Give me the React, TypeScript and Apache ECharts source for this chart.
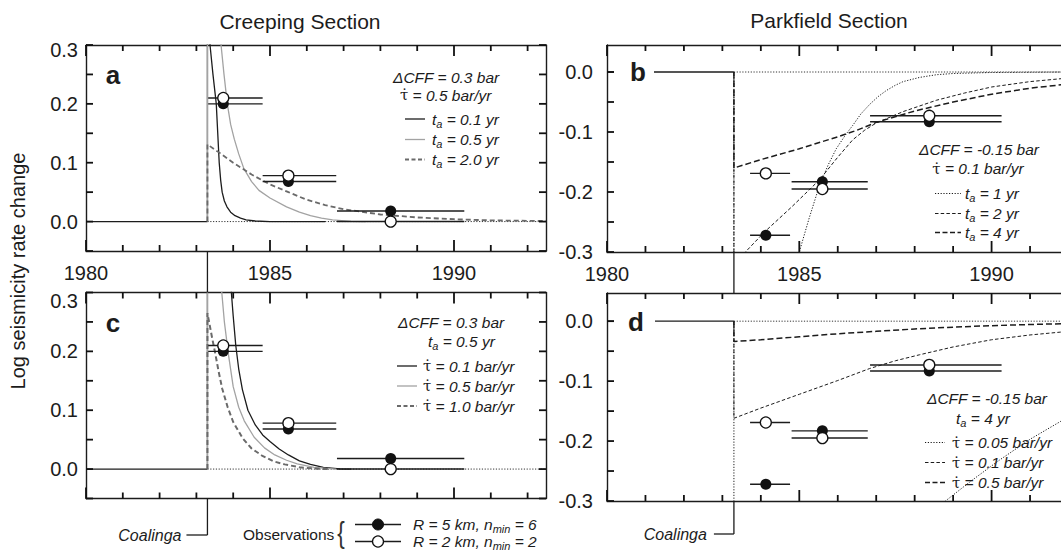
import React, { useEffect, useRef } from 'react';
import * as echarts from 'echarts';

const W = 1061;
const H = 552;
const FONT = 'Liberation Sans';
const INK = '#1c1c1c';
const TC = 1983.3; // Coalinga earthquake

// ---------- Tick positions ----------
const yearTicks = [1980, 1981, 1982, 1983, 1984, 1985, 1986, 1987, 1988, 1989, 1990, 1991, 1992];
const creepYTicks = [-0.05, 0, 0.05, 0.1, 0.15, 0.2, 0.25, 0.3];
const parkYTicks = [-0.3, -0.25, -0.2, -0.15, -0.1, -0.05, 0];

// ---------- Observations ----------
const creepX = [1983.73, 1985.5, 1988.28];
const creepFilled = [0.2, 0.068, 0.018];
const creepOpen = [0.21, 0.078, 0.0];
const creepBinFrom = [1983.32, 1984.8, 1986.82];
const creepBinTo = [1984.8, 1986.8, 1990.28];

const parkX = [1984.13, 1985.6, 1988.38];
const parkFilled = [-0.272, -0.183, -0.083];
const parkOpen = [-0.169, -0.195, -0.073];
const parkBinFrom = [1983.72, 1984.8, 1986.84];
const parkBinTo = [1984.76, 1986.78, 1990.26];

// ---------- Model curves ----------
// panel a: dCFF = 0.3 bar, tau-dot = 0.5 bar/yr
const aTa01: number[][] = [[TC, 0], [TC, 0.8], [1983.37, 0.3], [1983.45, 0.25], [1983.54, 0.2], [1983.58, 0.15], [1983.62, 0.1], [1983.66, 0.07], [1983.7, 0.05], [1983.76, 0.035], [1983.83, 0.025], [1983.93, 0.016], [1984.05, 0.01], [1984.2, 0.006], [1984.35, 0.003], [1984.6, 0.001], [1985.0, 0], [1986.5, 0]];
const aTa05: number[][] = [[TC, 0], [TC, 0.8], [1983.67, 0.3], [1983.75, 0.25], [1983.84, 0.2], [1983.93, 0.165], [1984.03, 0.14], [1984.15, 0.115], [1984.29, 0.09], [1984.5, 0.068], [1984.7, 0.053], [1985.0, 0.04], [1985.45, 0.025], [1985.8, 0.016], [1986.1, 0.01], [1986.4, 0.006], [1986.7, 0.003], [1987.2, 0.0005], [1987.6, 0]];
const aTa20: number[][] = [[TC, 0], [TC, 0.131], [1983.6, 0.118], [1984.0, 0.1], [1984.5, 0.08], [1985.0, 0.063], [1985.5, 0.05], [1986.0, 0.037], [1986.5, 0.028], [1987.0, 0.021], [1988.0, 0.012], [1989.0, 0.007], [1990.0, 0.004], [1991.0, 0.002], [1992.5, 0.001]];

// panel c: dCFF = 0.3 bar, ta = 0.5 yr
const cRate01: number[][] = [[TC, 0], [TC, 0.8], [1983.95, 0.3], [1984.0, 0.26], [1984.07, 0.21], [1984.15, 0.17], [1984.25, 0.135], [1984.4, 0.1], [1984.6, 0.075], [1984.8, 0.058], [1985.0, 0.047], [1985.25, 0.034], [1985.5, 0.024], [1985.8, 0.014], [1986.1, 0.008], [1986.45, 0.003], [1986.9, 0.0005], [1987.2, 0]];
const cRate05: number[][] = [[TC, 0], [TC, 0.8], [1983.69, 0.3], [1983.76, 0.25], [1983.87, 0.195], [1984.0, 0.14], [1984.15, 0.105], [1984.3, 0.082], [1984.57, 0.054], [1984.85, 0.036], [1985.13, 0.024], [1985.45, 0.015], [1985.74, 0.009], [1986.2, 0.003], [1986.8, 0]];
const cRate10: number[][] = [[TC, 0], [TC, 0.265], [1983.36, 0.245], [1983.43, 0.222], [1983.52, 0.194], [1983.6, 0.167], [1983.7, 0.137], [1983.85, 0.105], [1984.0, 0.08], [1984.26, 0.052], [1984.5, 0.035], [1984.78, 0.023], [1985.1, 0.013], [1985.4, 0.008], [1985.8, 0.003], [1986.3, 0.0005], [1986.6, 0]];

// panel b: dCFF = -0.15 bar, tau-dot = 0.1 bar/yr
const bTa1: number[][] = [[TC, 0], [TC, -0.65], [1985.0, -0.3], [1985.25, -0.245], [1985.52, -0.19], [1985.75, -0.155], [1985.96, -0.128], [1986.2, -0.105], [1986.39, -0.089], [1986.6, -0.07], [1986.83, -0.054], [1987.05, -0.041], [1987.26, -0.031], [1987.5, -0.022], [1987.7, -0.016], [1988.13, -0.009], [1988.57, -0.0045], [1989.0, -0.0025], [1990.0, -0.0008], [1992.0, 0]];
const bTa2: number[][] = [[TC, 0], [TC, -0.33], [1983.57, -0.302], [1984.09, -0.267], [1984.8, -0.225], [1985.52, -0.18], [1986.0, -0.142], [1986.39, -0.113], [1986.7, -0.097], [1987.0, -0.085], [1987.7, -0.066], [1988.57, -0.047], [1989.3, -0.035], [1990.0, -0.025], [1991.0, -0.016], [1992.0, -0.01]];
const bTa4: number[][] = [[TC, 0], [TC, -0.16], [1984.0, -0.146], [1985.0, -0.128], [1986.0, -0.108], [1986.5, -0.097], [1987.0, -0.084], [1988.0, -0.065], [1989.0, -0.05], [1990.0, -0.037], [1991.0, -0.027], [1992.0, -0.02]];

// panel d: dCFF = -0.15 bar, ta = 4 yr
const dRate005: number[][] = [[TC, 0], [TC, -0.9], [1987.5, -0.4], [1988.8, -0.3], [1989.5, -0.265], [1990.2, -0.232], [1991.0, -0.197], [1991.8, -0.167], [1992.0, -0.16]];
const dRate01: number[][] = [[TC, 0], [TC, -0.162], [1984.0, -0.145], [1985.0, -0.122], [1986.0, -0.099], [1986.83, -0.079], [1987.5, -0.066], [1988.13, -0.056], [1989.0, -0.043], [1990.0, -0.031], [1991.0, -0.023], [1992.0, -0.017]];
const dRate05: number[][] = [[TC, 0], [TC, -0.034], [1984.0, -0.031], [1985.0, -0.026], [1986.0, -0.021], [1987.0, -0.017], [1988.0, -0.013], [1989.0, -0.01], [1990.0, -0.0075], [1991.0, -0.0055], [1992.0, -0.004]];

// ---------- Layout ----------
const GRIDS = [
  { left: 86, top: 45, width: 460, height: 206, xMin: 1980, xMax: 1992.5, yMin: -0.05, yMax: 0.3, xLabels: true, yMargin: 8, topPad: 9, yTicks: creepYTicks },
  { left: 607, top: 45, width: 461.5, height: 207, xMin: 1980, xMax: 1992, yMin: -0.3, yMax: 0.045, xLabels: true, yMargin: 14, topPad: 0, yTicks: parkYTicks },
  { left: 86, top: 292.5, width: 460, height: 206, xMin: 1980, xMax: 1992.5, yMin: -0.05, yMax: 0.3, xLabels: false, yMargin: 8, topPad: 17, yTicks: creepYTicks },
  { left: 607, top: 293, width: 461.5, height: 208, xMin: 1980, xMax: 1992, yMin: -0.3, yMax: 0.047, xLabels: false, yMargin: 14, topPad: 0, yTicks: parkYTicks },
];

const DOT = [1.2, 1.6];
const DASH = [3.5, 2.2];
const LDASH = [6, 3];

const isMajor = (v: number) => Math.abs(v - Math.round(v / 5) * 5) < 1e-6;

function buildOption() {
  const grid: any[] = [];
  const xAxis: any[] = [];
  const yAxis: any[] = [];
  GRIDS.forEach((g, gi) => {
    grid.push({ left: g.left, top: g.top, width: g.width, height: g.height, containLabel: false, outerBoundsMode: 'none' });
    for (const pos of ['bottom', 'top']) {
      xAxis.push({
        type: 'value', gridIndex: gi, min: g.xMin, max: g.xMax, splitLine: { show: false },
        position: pos, interval: 5,
        axisLine: { show: true, onZero: false, lineStyle: { color: INK, width: 1.4 } },
        axisTick: { show: false },
        axisLabel: {
          show: pos === 'bottom' && g.xLabels, margin: 12, fontSize: 20, color: INK, fontFamily: FONT,
          formatter: (v: number) => (isMajor(v) ? String(Math.round(v)) : ''),
        },
      });
    }
    for (const pos of ['left', 'right']) {
      yAxis.push({
        type: 'value', gridIndex: gi, position: pos, min: g.yMin, max: g.yMax, interval: 0.05,
        splitLine: { show: false },
        axisLine: { show: true, onZero: false, lineStyle: { color: INK, width: 1.4 } },
        axisTick: { show: false },
        axisLabel: {
          show: pos === 'left', margin: g.yMargin, fontSize: 20, color: INK, fontFamily: FONT,
          rich: { p: { fontSize: 20, fontFamily: FONT, color: INK, padding: [g.topPad, 0, 0, 0] } },
          formatter: (v: number) => {
            const k = Math.round(v * 100);
            if (k % 10 !== 0) return '';
            const s = (k / 100).toFixed(1);
            return k === 30 && g.topPad > 0 ? '{p|' + s + '}' : s;
          },
        },
      });
    }
  });

  const series: any[] = [];
  const line = (gi: number, data: any[], color: string, width: number, type: any, z = 3, clip = true) => {
    series.push({
      type: 'line', xAxisIndex: gi * 2, yAxisIndex: gi * 2, data, symbol: 'none', clip, silent: true, z,
      lineStyle: { color, width, type, cap: 'butt' },
    });
  };

  // inward ticks on all four sides, drawn as short segments in data space
  GRIDS.forEach((g, gi) => {
    const dy = (g.yMax - g.yMin) / g.height; // data units per pixel
    const dx = (g.xMax - g.xMin) / g.width;
    yearTicks.filter((v) => v <= g.xMax).forEach((v) => {
      const len = (isMajor(v) ? 11 : 6) * dy;
      line(gi, [[v, g.yMin], [v, g.yMin + len]], '#111', 1.8, 'solid', 7, false);
      line(gi, [[v, g.yMax], [v, g.yMax - len]], '#111', 1.8, 'solid', 7, false);
    });
    g.yTicks.forEach((v) => {
      line(gi, [[g.xMin, v], [g.xMin + 7 * dx, v]], '#111', 1.8, 'solid', 7, false);
      line(gi, [[g.xMax, v], [g.xMax - 7 * dx, v]], '#111', 1.8, 'solid', 7, false);
    });
  });

  // baselines
  GRIDS.forEach((g, gi) => {
    line(gi, [[g.xMin, 0], [TC, 0]], INK, 1.3, 'solid', 2);
    line(gi, [[TC, 0], [g.xMax, 0]], '#333', 1, DOT, 2);
  });
  // panel a
  line(0, aTa01, INK, 1.3, 'solid');
  line(0, aTa05, '#a3a3a3', 1.3, 'solid');
  line(0, aTa20, '#6a6a6a', 1.8, [5, 3]);
  // panel c
  line(2, cRate01, INK, 1.3, 'solid');
  line(2, cRate05, '#a3a3a3', 1.3, 'solid');
  line(2, cRate10, '#6a6a6a', 2, [5, 3]);
  // panel b
  line(1, bTa1, INK, 1, DOT);
  line(1, bTa2, INK, 1, DASH);
  line(1, bTa4, INK, 1.5, LDASH);
  // panel d
  line(3, dRate005, INK, 1, DOT);
  line(3, dRate01, INK, 1, DASH);
  line(3, dRate05, INK, 1.5, LDASH);

  // observations
  const obs = (gi: number, xs: number[], fy: number[], oy: number[], from: number[], to: number[]) => {
    xs.forEach((_, i) => {
      line(gi, [[from[i], fy[i]], [to[i], fy[i]]], INK, 1.4, 'solid', 4);
      line(gi, [[from[i], oy[i]], [to[i], oy[i]]], INK, 1.4, 'solid', 4);
    });
    series.push({
      type: 'scatter', xAxisIndex: gi * 2, yAxisIndex: gi * 2, symbolSize: 11, silent: true, z: 5,
      data: xs.map((x, i) => [x, fy[i]]), itemStyle: { color: '#111', opacity: 1 },
    });
    series.push({
      type: 'scatter', xAxisIndex: gi * 2, yAxisIndex: gi * 2, symbolSize: 11, silent: true, z: 6,
      data: xs.map((x, i) => [x, oy[i]]), itemStyle: { color: '#fff', borderColor: '#111', borderWidth: 1.3, opacity: 1 },
    });
  };
  obs(0, creepX, creepFilled, creepOpen, creepBinFrom, creepBinTo);
  obs(2, creepX, creepFilled, creepOpen, creepBinFrom, creepBinTo);
  obs(1, parkX, parkFilled, parkOpen, parkBinFrom, parkBinTo);
  obs(3, parkX, parkFilled, parkOpen, parkBinFrom, parkBinTo);

  return {
    animation: false,
    backgroundColor: '#fff',
    textStyle: { fontFamily: FONT },
    grid, xAxis, yAxis, series,
  };
}

const RICH = {
  i: { fontFamily: FONT, fontStyle: 'italic', fontSize: 15.5, lineHeight: 20, fill: INK },
  s: { fontFamily: FONT, fontStyle: 'italic', fontSize: 11, lineHeight: 8, verticalAlign: 'bottom', fill: INK },
  u: { fontFamily: 'DejaVu Serif', fontSize: 15, lineHeight: 20, fill: INK },
};

function txt(x: number, y: number, text: string, align = 'left') {
  return {
    type: 'text', x, y, z: 100,
    style: { text, rich: RICH, align, textAlign: align, verticalAlign: 'middle', textVerticalAlign: 'middle', fill: INK },
  };
}
function seg(x1: number, y1: number, x2: number, y2: number, stroke = INK, lineWidth = 1.3, lineDash: any = null) {
  return { type: 'line', z: 100, shape: { x1, y1, x2, y2 }, style: { stroke, lineWidth, lineDash } };
}
function plain(x: number, y: number, text: string, size: number, opts: any = {}) {
  return {
    type: 'text', x, y, z: 100,
    style: {
      text, fontFamily: FONT, fontSize: size, fill: INK, align: 'center', textAlign: 'center',
      verticalAlign: 'middle', textVerticalAlign: 'middle', ...opts,
    },
  };
}

function buildGraphic(pxL: number, pxR: number) {
  const TAU = '{u|\u03c4\u0307}';
  const el: any[] = [];
  // titles
  el.push(plain(300, 21, 'Creeping Section', 21));
  el.push(plain(829, 20, 'Parkfield Section', 21));
  el.push({ ...plain(18, 271, 'Log seismicity rate change', 20), rotation: Math.PI / 2 });
  // panel letters (the letter hides the pre-event baseline in b and d)
  el.push({ type: 'rect', z: 90, shape: { x: 614, y: 63, width: 40, height: 18 }, style: { fill: '#fff' } });
  el.push({ type: 'rect', z: 90, shape: { x: 614, y: 313, width: 41, height: 18 }, style: { fill: '#fff' } });
  el.push(plain(113, 75, 'a', 26, { fontWeight: 'bold' }));
  el.push(plain(638, 72, 'b', 26, { fontWeight: 'bold' }));
  el.push(plain(113, 323, 'c', 26, { fontWeight: 'bold' }));
  el.push(plain(636, 322, 'd', 26, { fontWeight: 'bold' }));

  // panel a legend
  el.push(txt(393, 77, '{i|\u0394CFF = 0.3 bar}'));
  el.push(txt(400, 95, TAU + '{i| = 0.5 bar/yr}'));
  el.push(seg(405, 119, 425, 119, INK, 1.3));
  el.push(seg(405, 139.5, 425, 139.5, '#a3a3a3', 1.3));
  el.push(seg(405, 159.5, 425, 159.5, '#6a6a6a', 1.8, [4, 2.5]));
  el.push(txt(432, 119, '{i|t}{s|a}{i| = 0.1 yr}'));
  el.push(txt(432, 139.5, '{i|t}{s|a}{i| = 0.5 yr}'));
  el.push(txt(432, 159.5, '{i|t}{s|a}{i| = 2.0 yr}'));

  // panel c legend
  el.push(txt(398, 322, '{i|\u0394CFF = 0.3 bar}'));
  el.push(txt(428, 341, '{i|t}{s|a}{i| = 0.5 yr}'));
  el.push(seg(397, 366, 417, 366, INK, 1.3));
  el.push(seg(397, 386, 417, 386, '#a3a3a3', 1.3));
  el.push(seg(397, 406, 417, 406, '#6a6a6a', 2, [4, 2.5]));
  el.push(txt(423, 366, TAU + '{i| = 0.1 bar/yr}'));
  el.push(txt(423, 386, TAU + '{i| = 0.5 bar/yr}'));
  el.push(txt(423, 406, TAU + '{i| = 1.0 bar/yr}'));

  // panel b legend
  el.push(txt(979, 149, '{i|\u0394CFF = -0.15 bar}', 'center'));
  el.push(txt(978, 168.5, TAU + '{i| = 0.1 bar/yr}', 'center'));
  el.push(seg(935, 193.5, 961, 193.5, INK, 1, DOT));
  el.push(seg(935, 213.5, 961, 213.5, INK, 1, DASH));
  el.push(seg(935, 232.5, 961, 232.5, INK, 1.5, [5, 2.5]));
  el.push(txt(965, 193.5, '{i|t}{s|a}{i| = 1 yr}'));
  el.push(txt(965, 213.5, '{i|t}{s|a}{i| = 2 yr}'));
  el.push(txt(965, 232.5, '{i|t}{s|a}{i| = 4 yr}'));

  // panel d legend
  el.push(txt(987, 398.5, '{i|\u0394CFF = -0.15 bar}', 'center'));
  el.push(txt(983, 418, '{i|t}{s|a}{i| = 4 yr}', 'center'));
  el.push(seg(925, 442.5, 945, 442.5, INK, 1, DOT));
  el.push(seg(925, 462.5, 945, 462.5, INK, 1, DASH));
  el.push(seg(925, 482.5, 945, 482.5, INK, 1.5, [5, 2.5]));
  el.push(txt(952, 442.5, TAU + '{i| = 0.05 bar/yr}'));
  el.push(txt(952, 462.5, TAU + '{i| = 0.1 bar/yr}'));
  el.push(txt(952, 482.5, TAU + '{i| = 0.5 bar/yr}'));

  // Coalinga markers
  el.push(seg(pxL, 251, pxL, 292.5, INK, 1.3));
  el.push(seg(pxL, 498.5, pxL, 535, INK, 1.3));
  el.push(seg(pxL - 21, 535, pxL, 535, INK, 1.3));
  el.push(plain(pxL - 26, 535, 'Coalinga', 16, { fontStyle: 'italic', align: 'right', textAlign: 'right' }));
  el.push(seg(pxR, 252, pxR, 293, INK, 1.3));
  el.push(seg(pxR, 501, pxR, 534, INK, 1.3));
  el.push(seg(pxR - 20, 534, pxR, 534, INK, 1.3));
  el.push(plain(pxR - 27, 534, 'Coalinga', 16, { fontStyle: 'italic', align: 'right', textAlign: 'right' }));

  // Observations legend
  el.push(plain(243, 534, 'Observations', 15.5, { align: 'left', textAlign: 'left' }));
  el.push({ ...plain(0, 0, '{', 30, { fill: '#333' }), x: 341, y: 533, scaleX: 0.75, originX: 0, originY: 0 });
  el.push(seg(355, 524.5, 401, 524.5, INK, 1.3));
  el.push(seg(355, 541.5, 401, 541.5, INK, 1.3));
  el.push({ type: 'circle', z: 101, shape: { cx: 378, cy: 524.5, r: 5.5 }, style: { fill: '#111', stroke: '#111', lineWidth: 1 } });
  el.push({ type: 'circle', z: 101, shape: { cx: 378, cy: 541.5, r: 5.5 }, style: { fill: '#fff', stroke: '#111', lineWidth: 1.3 } });
  el.push(txt(413, 524.5, '{i|R = 5 km, n}{s|min}{i| = 6}'));
  el.push(txt(413, 541.5, '{i|R = 2 km, n}{s|min}{i| = 2}'));
  return el;
}

export default function App() {
  const ref = useRef<HTMLDivElement>(null);
  useEffect(() => {
    if (!ref.current) return;
    const chart = echarts.init(ref.current, null, { renderer: 'svg', width: W, height: H });
    chart.setOption(buildOption() as any);
    const pxL = chart.convertToPixel({ xAxisIndex: 0 } as any, TC) as unknown as number;
    const pxR = chart.convertToPixel({ xAxisIndex: 2 } as any, TC) as unknown as number;
    chart.setOption({ graphic: { elements: buildGraphic(pxL, pxR) } } as any);
    return () => chart.dispose();
  }, []);
  return <div ref={ref} style={{ position: 'fixed', left: 0, top: 0, width: W, height: H, background: '#fff' }} />;
}
